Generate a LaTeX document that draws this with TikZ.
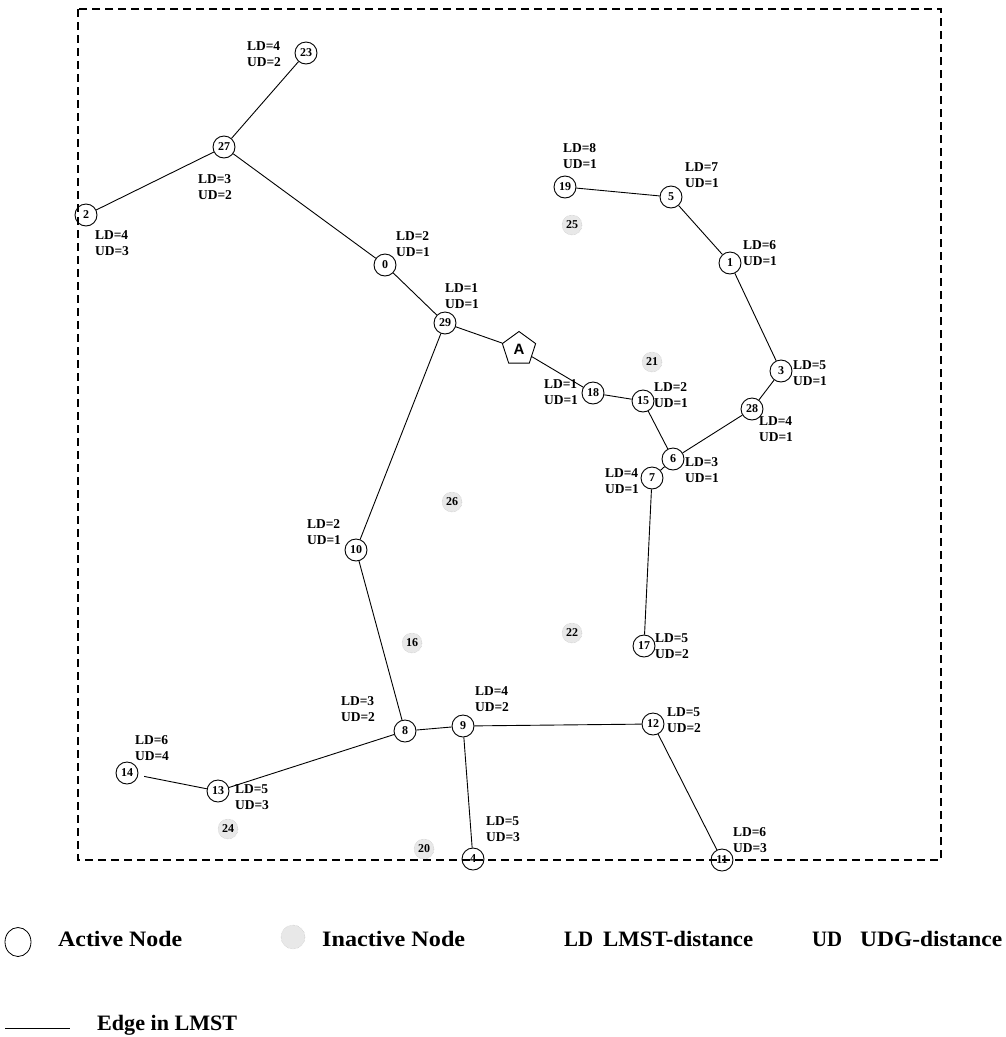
\documentclass[tikz,border=0pt]{standalone}
\usepackage{fontspec}
\usepackage{graphicx}
\setmainfont{Liberation Serif}
\newfontfamily\sansA{Liberation Sans}
\usetikzlibrary{shapes.geometric}
\newcommand{\lgdtext}[2]{\resizebox{#1}{\height}{\fontsize{22}{24}\selectfont\bfseries #2}}
\begin{document}
\begin{tikzpicture}[x=1pt,y=-1pt,
  act/.style={circle,draw,line width=0.9pt,minimum size=22pt,inner sep=0pt,
    font=\fontsize{12}{12}\selectfont\bfseries},
  inact/.style={circle,draw=gray!55,densely dotted,fill=gray!18,minimum size=20pt,inner sep=0pt,
    font=\fontsize{12}{12}\selectfont\bfseries},
  lbl/.style={align=left,inner sep=0pt,font=\fontsize{13.5}{16.5}\selectfont\bfseries},
  lmst/.style={line width=0.9pt},
  frame/.style={dash pattern=on 8pt off 5pt,line width=1.1pt},
  lgd/.style={anchor=base west,inner sep=0pt}]
\useasboundingbox (0,0) rectangle (1006,1037);
\fill[white] (0,0) rectangle (1006,1037);
\draw[frame] (78,9) rectangle (941,860);

% active nodes
\node[act] (n23) at (306,53) {23};
\node[act] (n27) at (224,147) {27};
\node[act] (n2) at (86,215) {2};
\node[act] (n0) at (385,265) {0};
\node[act] (n29) at (445,323) {29};
\node[regular polygon,regular polygon sides=5,draw,line width=0.9pt,minimum size=35pt,inner sep=0pt,
  font=\sansA\bfseries\fontsize{15}{15}\selectfont] (nA) at (519,349) {A};
\node[act] (n19) at (565,187) {19};
\node[act] (n5) at (671,197) {5};
\node[act] (n1) at (730,263) {1};
\node[act] (n3) at (781,371) {3};
\node[act] (n28) at (752,409) {28};
\node[act] (n18) at (593,393) {18};
\node[act] (n15) at (643,401) {15};
\node[act] (n6) at (673,459) {6};
\node[act] (n7) at (652,478) {7};
\node[act] (n17) at (644,646) {17};
\node[act] (n10) at (356,550) {10};
\node[act] (n8) at (405,731) {8};
\node[act] (n9) at (463,726) {9};
\node[act] (n12) at (653,724) {12};
\node[act] (n13) at (218,791) {13};
\node[act] (n14) at (127,773) {14};
\node[act] (n4) at (473,859) {4};
\node[act] (n11) at (722,860) {11};

% inactive nodes
\node[inact] (n25) at (572,225) {25};
\node[inact] (n21) at (652,362) {21};
\node[inact] (n26) at (452,502) {26};
\node[inact] (n16) at (412,643) {16};
\node[inact] (n22) at (572,633) {22};
\node[inact] (n24) at (228,829) {24};
\node[inact] (n20) at (424,849) {20};

% LMST edges
\draw[lmst] (n23) -- (n27);
\draw[lmst] (n27) -- (n2);
\draw[lmst] (n27) -- (n0);
\draw[lmst] (n0) -- (n29);
\draw[lmst] (n29) -- (nA);
\draw[lmst] (nA) -- (n18);
\draw[lmst] (n18) -- (n15);
\draw[lmst] (n15) -- (n6);
\draw[lmst] (n6) -- (n28);
\draw[lmst] (n28) -- (n3);
\draw[lmst] (n3) -- (n1);
\draw[lmst] (n1) -- (n5);
\draw[lmst] (n5) -- (n19);
\draw[lmst] (n6) -- (n7);
\draw[lmst] (n7) -- (n17);
\draw[lmst] (n29) -- (n10);
\draw[lmst] (n10) -- (n8);
\draw[lmst] (n8) -- (n9);
\draw[lmst] (n8) -- (n13);
\draw[lmst,shorten >=6pt] (n13) -- (n14);
\draw[lmst] (n9) -- (n12);
\draw[lmst] (n9) -- (n4);
\draw[lmst] (n12) -- (n11);

% distance labels
\node[lbl] (l23) at (264,54) {LD=4\\UD=2};
\node[lbl] (l27) at (215,187) {LD=3\\UD=2};
\node[lbl] (l2) at (112,243) {LD=4\\UD=3};
\node[lbl] (l0) at (413,244) {LD=2\\UD=1};
\node[lbl] (l29) at (462,296) {LD=1\\UD=1};
\node[lbl] (l19) at (580,156) {LD=8\\UD=1};
\node[lbl] (l5) at (702,175) {LD=7\\UD=1};
\node[lbl] (l1) at (760,253) {LD=6\\UD=1};
\node[lbl] (l3) at (810,373) {LD=5\\UD=1};
\node[lbl] (l28) at (776,429) {LD=4\\UD=1};
\node[lbl] (l18) at (561,392) {LD=1\\UD=1};
\node[lbl] (l15) at (671,395) {LD=2\\UD=1};
\node[lbl] (l6) at (702,470) {LD=3\\UD=1};
\node[lbl] (l7) at (622,481) {LD=4\\UD=1};
\node[lbl] (l17) at (672,646) {LD=5\\UD=2};
\node[lbl] (l10) at (324,532) {LD=2\\UD=1};
\node[lbl] (l8) at (358,709) {LD=3\\UD=2};
\node[lbl] (l9) at (492,699) {LD=4\\UD=2};
\node[lbl] (l12) at (684,720) {LD=5\\UD=2};
\node[lbl] (l13) at (252,797) {LD=5\\UD=3};
\node[lbl] (l14) at (152,748) {LD=6\\UD=4};
\node[lbl] (l4) at (503,829) {LD=5\\UD=3};
\node[lbl] (l11) at (750,840) {LD=6\\UD=3};

% legend
\node[ellipse,draw,line width=0.8pt,minimum width=26pt,minimum height=29pt,inner sep=0pt] (legact) at (18,942) {};
\node[lgd] (legacttext) at (58,946) {\lgdtext{124pt}{Active Node}};
\node[circle,draw=gray!55,densely dotted,fill=gray!18,minimum size=24pt,inner sep=0pt] (leginact) at (293,937) {};
\node[lgd] (leginacttext) at (322,946) {\lgdtext{143pt}{Inactive Node}};
\node[lgd] (legld) at (564,946) {\lgdtext{29pt}{LD}};
\node[lgd] (legldtext) at (603,946) {\lgdtext{150pt}{LMST-distance}};
\node[lgd] (legud) at (812,946) {\lgdtext{30pt}{UD}};
\node[lgd] (legudtext) at (860,946) {\lgdtext{142pt}{UDG-distance}};
\coordinate (legedgeA) at (5,1028);
\coordinate (legedgeB) at (70,1028);
\draw[lmst] (legedgeA) -- (legedgeB);
\node[lgd] (legedgetext) at (97,1030) {\lgdtext{140pt}{Edge in LMST}};
\end{tikzpicture}
\end{document}
